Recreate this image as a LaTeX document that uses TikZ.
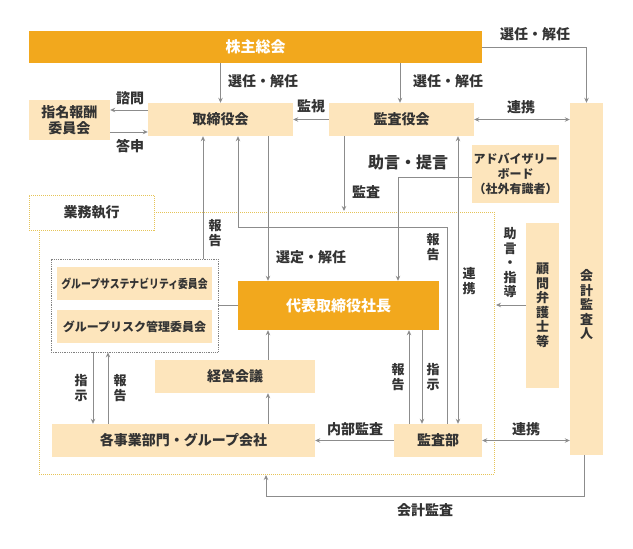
\documentclass[tikz,border=0pt]{standalone}
\usepackage{fontspec}
\usepackage{graphicx}
\newfontfamily\jp{Noto Sans CJK JP}
\usetikzlibrary{arrows.meta}
\definecolor{orng}{HTML}{F2A81D}
\definecolor{boxl}{HTML}{FDE5BC}
\definecolor{dotc}{HTML}{E6C458}
\definecolor{lgray}{HTML}{8C8C8C}
\definecolor{txt}{HTML}{333333}
\tikzset{
  lbox/.style={fill=boxl, draw=none, inner sep=0pt, font=\jp\bfseries\fontsize{14}{16}\selectfont, text=txt, align=center},
  obox/.style={fill=orng, draw=none, inner sep=0pt, font=\jp\bfseries\fontsize{15}{17}\selectfont, text=white},
  lbl/.style={inner sep=0pt, font=\jp\bfseries\fontsize{14}{16}\selectfont, text=txt, align=center},
  vlbl/.style={inner sep=0pt, font=\jp\bfseries\fontsize{13}{14.5}\selectfont, text=txt, align=center},
  arr/.style={draw=lgray, line width=1pt, -{Stealth[length=5pt,width=4.5pt]}},
  darr/.style={draw=lgray, line width=1pt, {Stealth[length=5pt,width=4.5pt]}-{Stealth[length=5pt,width=4.5pt]}},
  ln/.style={draw=lgray, line width=1pt},
  areaedge/.style={draw=dotc, line width=1pt, densely dotted},
}
\begin{document}
\begin{tikzpicture}[x=1pt,y=-1pt]
\useasboundingbox (0,0) rectangle (633,549);
% execution area
\draw[areaedge] (154,212) -- (494,212) -- (494,474) -- (39,474) -- (39,230);
\node[areaedge, fill=white, minimum width=125pt, minimum height=35pt, inner sep=0pt, font=\jp\bfseries\fontsize{14}{16}\selectfont, text=txt] (gyomu) at (91.5,212.5) {業務執行};

% boxes
\node[obox, minimum width=453pt, minimum height=32pt] (share) at (255.5,47) {株主総会};
\node[lbox, minimum width=145pt, minimum height=33pt] (board) at (220.5,119.5) {取締役会};
\node[lbox, minimum width=145pt, minimum height=33pt] (kansayaku) at (401.5,119.5) {監査役会};
\node[lbox, minimum width=81pt, minimum height=40pt] (nomi) at (69.5,120) {指名報酬\\委員会};
\node[lbox, minimum width=33pt, minimum height=352pt] (auditor) at (586.5,279) {};
\node[vlbl] (auditortext) at (586.5,305) {会\\計\\監\\査\\人};
\node[lbox, minimum width=87pt, minimum height=58pt, font=\jp\bfseries\fontsize{12}{15}\selectfont] (advisory) at (515.5,174) {アドバイザリー\\ボード\\（社外有識者）};
\node[obox, minimum width=201pt, minimum height=49pt] (ceo) at (338.5,305.5) {代表取締役社長};
\node[draw=gray, densely dotted, line width=0.8pt, minimum width=167pt, minimum height=93pt, inner sep=0pt] (comgroup) at (134.5,305.5) {};
\node[lbox, minimum width=155pt, minimum height=33pt, font=\jp\bfseries\fontsize{12}{14}\selectfont] (sust) at (134.5,283.5) {\scalebox{0.82}[1]{グループサステナビリティ委員会}};
\node[lbox, minimum width=155pt, minimum height=33pt, font=\jp\bfseries\fontsize{12}{14}\selectfont] (risk) at (134.5,326.5) {グループリスク管理委員会};
\node[lbox, minimum width=160pt, minimum height=33pt] (keiei) at (235,376.5) {経営会議};
\node[lbox, minimum width=263pt, minimum height=33pt] (jigyo) at (183.5,440.5) {各事業部門・グループ会社};
\node[lbox, minimum width=88pt, minimum height=33pt] (kansabu) at (438,440.5) {監査部};
\node[lbox, minimum width=33pt, minimum height=165pt, font=\jp\bfseries\fontsize{13}{14.5}\selectfont] (lawyer) at (542.5,305.5) {顧\\問\\弁\\護\\士\\等};

% connectors
\draw[arr] (share.east) -| (auditor.north);
\node[lbl] (l1) at (535,34) {選任・解任};
\draw[arr] (share.south -| board.north) -- (board.north);
\node[lbl] (l2) at (263,81) {選任・解任};
\draw[arr] (share.south -| 400,0) -- (kansayaku.north -| 400,0);
\node[lbl] (l3) at (448,81) {選任・解任};

\draw[arr] (board.west |- 0,110) -- (nomi.east |- 0,110);
\node[lbl] (l4) at (130,98) {諮問};
\draw[arr] (nomi.east |- 0,132) -- (board.west |- 0,132);
\node[lbl] (l5) at (130,146) {答申};

\draw[arr] (kansayaku.west) -- (board.east);
\node[lbl] (l6) at (311,106) {監視};
\draw[darr] (kansayaku.east) -- (auditor.west |- kansayaku.east);
\node[lbl] (l7) at (521,107) {連携};

\draw[arr] (advisory.west |- 0,177) -| (ceo.north -| 398,0);
\node[lbl, font=\jp\bfseries\fontsize{16}{18}\selectfont] (l8) at (408,162) {助言・提言};

\coordinate (auditend) at (344,211);
\draw[arr] (kansayaku.south -| 344,0) -- (auditend);
\node[lbl] (l9) at (366,192) {監査};

\draw[arr] (comgroup.north -| 203,0) -- (board.south -| 203,0);
\node[vlbl] (l10) at (215,233) {報\\告};
\draw[arr] (board.south -| 268,0) -- (ceo.north -| 268,0);
\node[lbl] (l11) at (311,257) {選定・解任};

\draw[arr] (kansabu.north -| 447,0) -- (447,227) -- (238,227) -- (board.south -| 238,0);
\node[vlbl] (l12) at (433,247) {報\\告};
\draw[darr] (kansabu.north -| 458,0) -- (kansayaku.south -| 458,0);
\node[vlbl] (l13) at (469,281) {連\\携};

\draw[ln] (comgroup.east) -- (ceo.west);

\draw[arr] (comgroup.south -| 93,0) -- (jigyo.north -| 93,0);
\node[vlbl] (l14) at (81,388) {指\\示};
\draw[arr] (jigyo.north -| 108,0) -- (comgroup.south -| 108,0);
\node[vlbl] (l15) at (120,388) {報\\告};

\draw[arr] (keiei.north -| 268,0) -- (ceo.south -| 268,0);
\draw[arr] (jigyo.north -| 268,0) -- (keiei.south -| 268,0);

\draw[arr] (kansabu.north -| 409,0) -- (ceo.south -| 409,0);
\node[vlbl] (l16) at (398,377) {報\\告};
\draw[arr] (ceo.south -| 422,0) -- (kansabu.north -| 422,0);
\node[vlbl] (l17) at (433,377) {指\\示};

\draw[arr] (kansabu.west) -- (jigyo.east);
\node[lbl] (l18) at (355,429) {内部監査};
\draw[darr] (kansabu.east) -- (auditor.west |- kansabu.east);
\node[lbl] (l19) at (526,429) {連携};

\coordinate (acctend) at (266,475);
\draw[arr] (auditor.south -| 584,0) |- (266,496) -- (acctend);
\node[lbl] (l20) at (425,510) {会計監査};

\coordinate (lawend) at (496,305);
\draw[arr] (lawyer.west |- 0,305) -- (lawend);
\node[vlbl] (l21) at (510,263) {助\\言\\・\\指\\導};
\end{tikzpicture}
\end{document}
